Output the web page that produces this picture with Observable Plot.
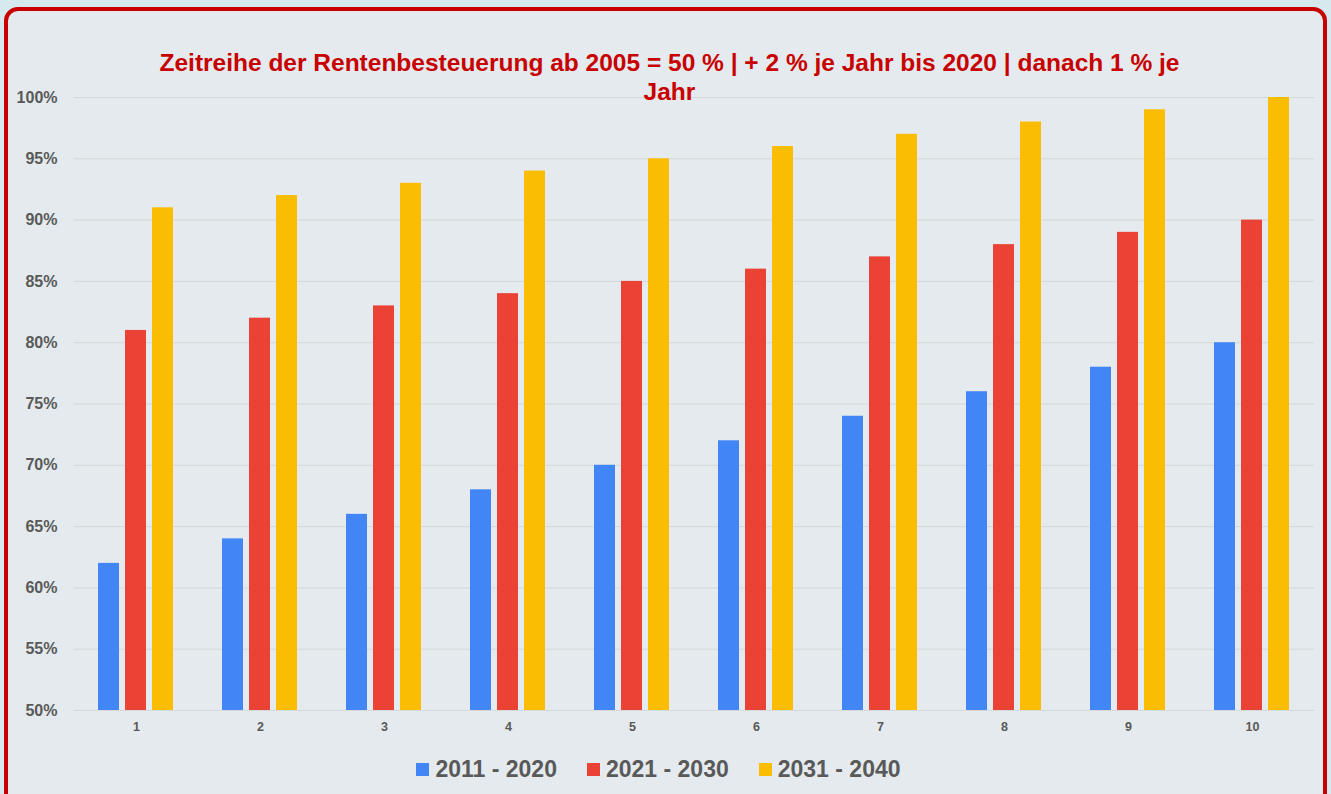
<!DOCTYPE html>
<html><head><meta charset="utf-8">
<script src="https://cdn.jsdelivr.net/npm/d3@7"></script>
<script src="https://cdn.jsdelivr.net/npm/@observablehq/plot@0.6"></script>
<style>
html,body{margin:0;padding:0;width:1331px;height:794px;overflow:hidden;background:#d6e9ef;font-family:"Liberation Sans",Arial,sans-serif;}
#card{position:absolute;left:4px;top:7px;width:1315px;height:800px;border:4px solid #c80000;border-radius:14px;background:#e4eaed;}
#chart{position:absolute;left:0;top:0;}
#title{position:absolute;left:0;top:48px;width:1331px;text-align:center;color:#c80000;font-weight:bold;font-size:24.5px;line-height:29px;padding-left:8px;box-sizing:border-box;}
#legend{position:absolute;left:0;top:756px;width:1331px;display:flex;justify-content:center;gap:30px;color:#595959;font-weight:bold;font-size:23px;padding-right:14px;box-sizing:border-box;}
#legend span.item{display:flex;align-items:center;}
#legend span.sw{display:inline-block;width:13px;height:13px;margin-right:6px;}
</style></head>
<body>
<div id="card"></div>
<div id="chart"></div>
<div id="title">Zeitreihe der Rentenbesteuerung ab 2005 = 50 % | + 2 % je Jahr bis 2020 | danach 1 % je<br>Jahr</div>
<div id="legend"></div>
<script>
const groups = [1,2,3,4,5,6,7,8,9,10];
const seriesNames = ["2011 - 2020","2021 - 2030","2031 - 2040"];
const seriesColors = ["#4285f4","#ea4335","#fbbc04"];
const values2011 = [62,64,66,68,70,72,74,76,78,80];
const values2021 = [81,82,83,84,85,86,87,88,89,90];
const values2031 = [91,92,93,94,95,96,97,98,99,100];
const yTicks = [50,55,60,65,70,75,80,85,90,95,100];

const allValues = [values2011, values2021, values2031];
const data = [];
groups.forEach((g,i)=>seriesNames.forEach((s,j)=>data.push({group:g, series:s, value:allValues[j][i]})));

const chart = Plot.plot({
  width:1331, height:740,
  marginLeft:72, marginRight:16, marginTop:97, marginBottom:30,
  style:{background:"transparent", fontFamily:"Liberation Sans, Arial, sans-serif"},
  fx:{domain:groups, padding:0, axis:"bottom", label:null, tickSize:0, tickPadding:12},
  x:{domain:seriesNames, axis:null, paddingInner:0.22, paddingOuter:0.87},
  y:{domain:[50,100], ticks:yTicks, tickFormat:d=>d+"%", label:null, tickSize:0, tickPadding:17, grid:false},
  color:{domain:seriesNames, range:seriesColors},
  marks:[
    Plot.ruleY(yTicks, {stroke:"#d4d8da", strokeWidth:1}),
    Plot.barY(data, {fx:"group", x:"series", y1:50, y2:"value", fill:"series"})
  ]
});
chart.querySelectorAll("g[aria-label='y-axis tick label'] text, g[aria-label='y-axis'] text").forEach(t=>{t.setAttribute("font-size","16");t.setAttribute("font-weight","bold");t.setAttribute("fill","#595959");});
chart.querySelectorAll("g[aria-label='fx-axis tick label'] text, g[aria-label='fx-axis'] text").forEach(t=>{t.setAttribute("font-size","12.5");t.setAttribute("font-weight","bold");t.setAttribute("fill","#595959");});
document.getElementById("chart").appendChild(chart);

const legend = document.getElementById("legend");
seriesNames.forEach((s,i)=>{
  const it=document.createElement("span"); it.className="item";
  const sw=document.createElement("span"); sw.className="sw"; sw.style.background=seriesColors[i];
  it.appendChild(sw); it.appendChild(document.createTextNode(s)); legend.appendChild(it);
});
</script>
</body></html>
